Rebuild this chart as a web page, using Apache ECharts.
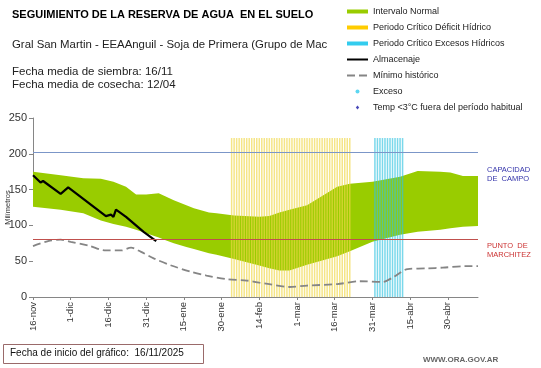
<!DOCTYPE html>
<html>
<head>
<meta charset="utf-8">
<script src="https://cdn.jsdelivr.net/npm/echarts@6/dist/echarts.min.js"></script>
<style>
html,body{margin:0;padding:0;background:#fff;}
#chart{width:541px;height:368px;}
</style>
</head>
<body>
<div id="chart"></div>
<script>
// Days counted from 16-nov (start of chart)
var tickLabels = ['16-nov','1-dic','16-dic','31-dic','15-ene','30-ene','14-feb','1-mar','16-mar','31-mar','15-abr','30-abr'];

var bandDays = [0, 11, 20, 27, 32, 37, 41, 45, 50, 53, 56, 61, 64, 70, 73, 80, 90, 94, 98, 102, 109, 115, 121, 126, 135, 146, 153, 162, 166, 171, 177];
var bandHigh = [175, 170, 166, 165, 161, 154, 143, 143, 145, 140, 135, 128, 124, 118, 117, 114, 112, 113, 118, 122, 128, 141, 154, 158, 161, 168, 176, 175, 174, 169, 169];
var bandLow  = [126, 122, 117, 107, 102, 98, 94, 89, 83, 79, 75, 70, 67, 61, 59, 53, 44, 40, 37, 37, 45, 51, 57, 64, 77, 87, 91, 94, 96, 98, 99];

var almDays = [0, 3, 4, 11, 14, 29, 31, 32, 33, 37, 44, 49];
var almVals = [170, 160, 162, 144, 153, 113, 115, 112, 122, 112, 91, 78];

var minDays = [0, 6, 11, 15, 22, 29, 35, 39, 43, 48, 55, 63, 69, 77, 85, 90, 94, 102, 109, 121, 130, 139, 143, 149, 157, 163, 172, 177];
var minVals = [71, 78, 80, 77, 72, 65, 65, 69, 63, 54, 44, 35, 30, 25, 23, 20, 18, 14, 16, 18, 22, 21, 27, 39, 40, 41, 43, 43];

var deficitDays = [79,80,81,82,83,84,85,86,87,88,89,90,91,92,93,94,95,96,97,98,99,100,101,102,103,104,105,106,107,108,109,110,111,112,113,114,115,116,117,118,119,120,121,122,123,124,125,126];
var excesoDays = [136,137,138,139,140,141,142,143,144,145,146,147];
var periodHeight = 222;

var capacidadCampo = 202;
var puntoMarchitez = 80;

function pairs(xs, ys) { return xs.map(function (x, i) { return [x, ys[i]]; }); }

var chart = echarts.init(document.getElementById('chart'), null, {renderer: 'canvas'});
var FONT = 'Liberation Sans, Arial, sans-serif';

var option = {
  animation: false,
  backgroundColor: '#fff',
  title: [
    {text: 'SEGUIMIENTO DE LA RESERVA DE AGUA  EN EL SUELO', left: 12, top: 9, padding: 0,
     textStyle: {fontSize: 11, fontWeight: 'bold', color: '#000', fontFamily: FONT}},
    {text: 'Gral San Martin - EEAAnguil - Soja de Primera (Grupo de Mac', left: 12, top: 39, padding: 0,
     textStyle: {fontSize: 11.4, fontWeight: 'normal', color: '#222', fontFamily: FONT}},
    {text: 'Fecha media de siembra: 16/11\nFecha media de cosecha: 12/04', left: 12, top: 65, padding: 0,
     textStyle: {fontSize: 11.5, fontWeight: 'normal', color: '#222', fontFamily: FONT, lineHeight: 13}}
  ],
  legend: {
    orient: 'vertical', left: 346, top: 6, padding: 0,
    itemWidth: 21, itemHeight: 4, itemGap: 5,
    selectedMode: false,
    textStyle: {fontSize: 9, color: '#222', fontFamily: FONT, lineHeight: 11},
    data: [
      {name: 'Intervalo Normal', icon: 'rect', itemStyle: {color: '#99cc00', opacity: 1}},
      {name: 'Periodo Crítico Déficit Hídrico', icon: 'rect', itemStyle: {color: '#ffcc00', opacity: 1}},
      {name: 'Periodo Crítico Excesos Hídricos', icon: 'rect', itemStyle: {color: '#33ccee', opacity: 1}},
      {name: 'Almacenaje', itemStyle: {opacity: 0}},
      {name: 'Mínimo histórico', itemStyle: {opacity: 0}},
      {name: 'Exceso', icon: 'circle', itemStyle: {color: '#33ccee'}},
      {name: 'Temp <3°C fuera del período habitual', icon: 'path://M2.5,0L5,3L2.5,6L0,3Z', itemStyle: {color: '#1a1aa6'}}
    ]
  },
  grid: {left: 33, right: 63, top: 118, bottom: 71, containLabel: false, outerBoundsMode: 'none'},
  xAxis: {
    type: 'value', min: 0, max: 177, interval: 15,
    axisLine: {show: true, lineStyle: {color: '#868686', width: 1}},
    axisTick: {show: true, length: 3, lineStyle: {color: '#868686'}},
    splitLine: {show: false},
    axisLabel: {
      rotate: 90, fontSize: 9.5, color: '#333', fontFamily: FONT, margin: 5,
      showMaxLabel: false,
      formatter: function (v) { return (v % 15 === 0) ? (tickLabels[v / 15] || '') : ''; }
    }
  },
  yAxis: {
    type: 'value', min: 0, max: 250, interval: 50,
    name: 'Milímetros', nameLocation: 'middle', nameGap: 21, nameRotate: 90, nameMoveOverlap: false,
    nameTextStyle: {fontSize: 7.5, color: '#333', fontFamily: FONT},
    axisLine: {show: true, lineStyle: {color: '#868686', width: 1}},
    axisTick: {show: true, length: 4, lineStyle: {color: '#868686'}},
    splitLine: {show: false},
    axisLabel: {fontSize: 11, color: '#333', fontFamily: FONT, margin: 6}
  },
  series: [
    {
      name: 'Intervalo Normal', type: 'line', symbol: 'none', silent: true,
      lineStyle: {width: 0, opacity: 0}, itemStyle: {color: '#99cc00'},
      areaStyle: {color: '#99cc00', opacity: 1, origin: 'start'}, z: 1,
      data: pairs(bandDays, bandHigh)
    },
    {
      name: 'bandLow', type: 'line', symbol: 'none', silent: true,
      lineStyle: {width: 0, opacity: 0},
      areaStyle: {color: '#ffffff', opacity: 1, origin: 'start'}, z: 1,
      data: pairs(bandDays, bandLow)
    },
    {
      name: 'Periodo Crítico Déficit Hídrico', type: 'bar', barWidth: 1.5, barGap: '-100%', silent: true,
      itemStyle: {color: 'rgba(240,215,70,0.65)'}, z: 2,
      data: deficitDays.map(function (d) { return [d, periodHeight]; })
    },
    {
      name: 'Periodo Crítico Excesos Hídricos', type: 'bar', barWidth: 1.5, barGap: '-100%', silent: true,
      itemStyle: {color: 'rgba(50,195,225,0.65)'}, z: 2,
      data: excesoDays.map(function (d) { return [d, periodHeight]; })
    },
    {
      name: 'Mínimo histórico', type: 'line', symbol: 'none', silent: true, smooth: 0.3,
      lineStyle: {color: '#858585', width: 1.8, type: [8, 4]}, itemStyle: {color: '#858585'}, z: 3,
      data: pairs(minDays, minVals),
      markLine: {
        silent: true, symbol: 'none', label: {show: false},
        data: [
          {yAxis: capacidadCampo, lineStyle: {color: '#7b96c8', width: 1, type: 'solid'}},
          {yAxis: puntoMarchitez, lineStyle: {color: '#c0504d', width: 1, type: 'solid'}}
        ]
      }
    },
    {
      name: 'Almacenaje', type: 'line', symbol: 'none', silent: true,
      lineStyle: {color: '#000', width: 2.2}, itemStyle: {color: '#000'}, z: 4,
      data: pairs(almDays, almVals)
    },
    {name: 'Exceso', type: 'scatter', symbol: 'circle', symbolSize: 3, itemStyle: {color: '#33ccee'}, data: []},
    {name: 'Temp <3°C fuera del período habitual', type: 'scatter', symbol: 'diamond', symbolSize: 5, itemStyle: {color: '#1a1aa6'}, data: []}
  ],
  graphic: [
    {type: 'text', left: 487, top: 166, style: {text: 'CAPACIDAD\nDE  CAMPO', fill: '#3333aa', font: '7.5px ' + FONT, lineHeight: 8.5}},
    {type: 'text', left: 487, top: 242, style: {text: 'PUNTO  DE\nMARCHITEZ', fill: '#cc3333', font: '7.5px ' + FONT, lineHeight: 8.5}},
    {type: 'rect', left: 3, top: 344, shape: {width: 200, height: 19}, style: {fill: '#fff', stroke: '#9a6a6a', lineWidth: 1}},
    {type: 'text', left: 10, top: 348, style: {text: 'Fecha de inicio del gráfico:  16/11/2025', fill: '#111', font: '10px ' + FONT}},
    {type: 'text', left: 423, top: 356, style: {text: 'WWW.ORA.GOV.AR', fill: '#666', font: 'bold 8px ' + FONT}}
  ]
};
chart.setOption(option);
</script>
</body>
</html>
